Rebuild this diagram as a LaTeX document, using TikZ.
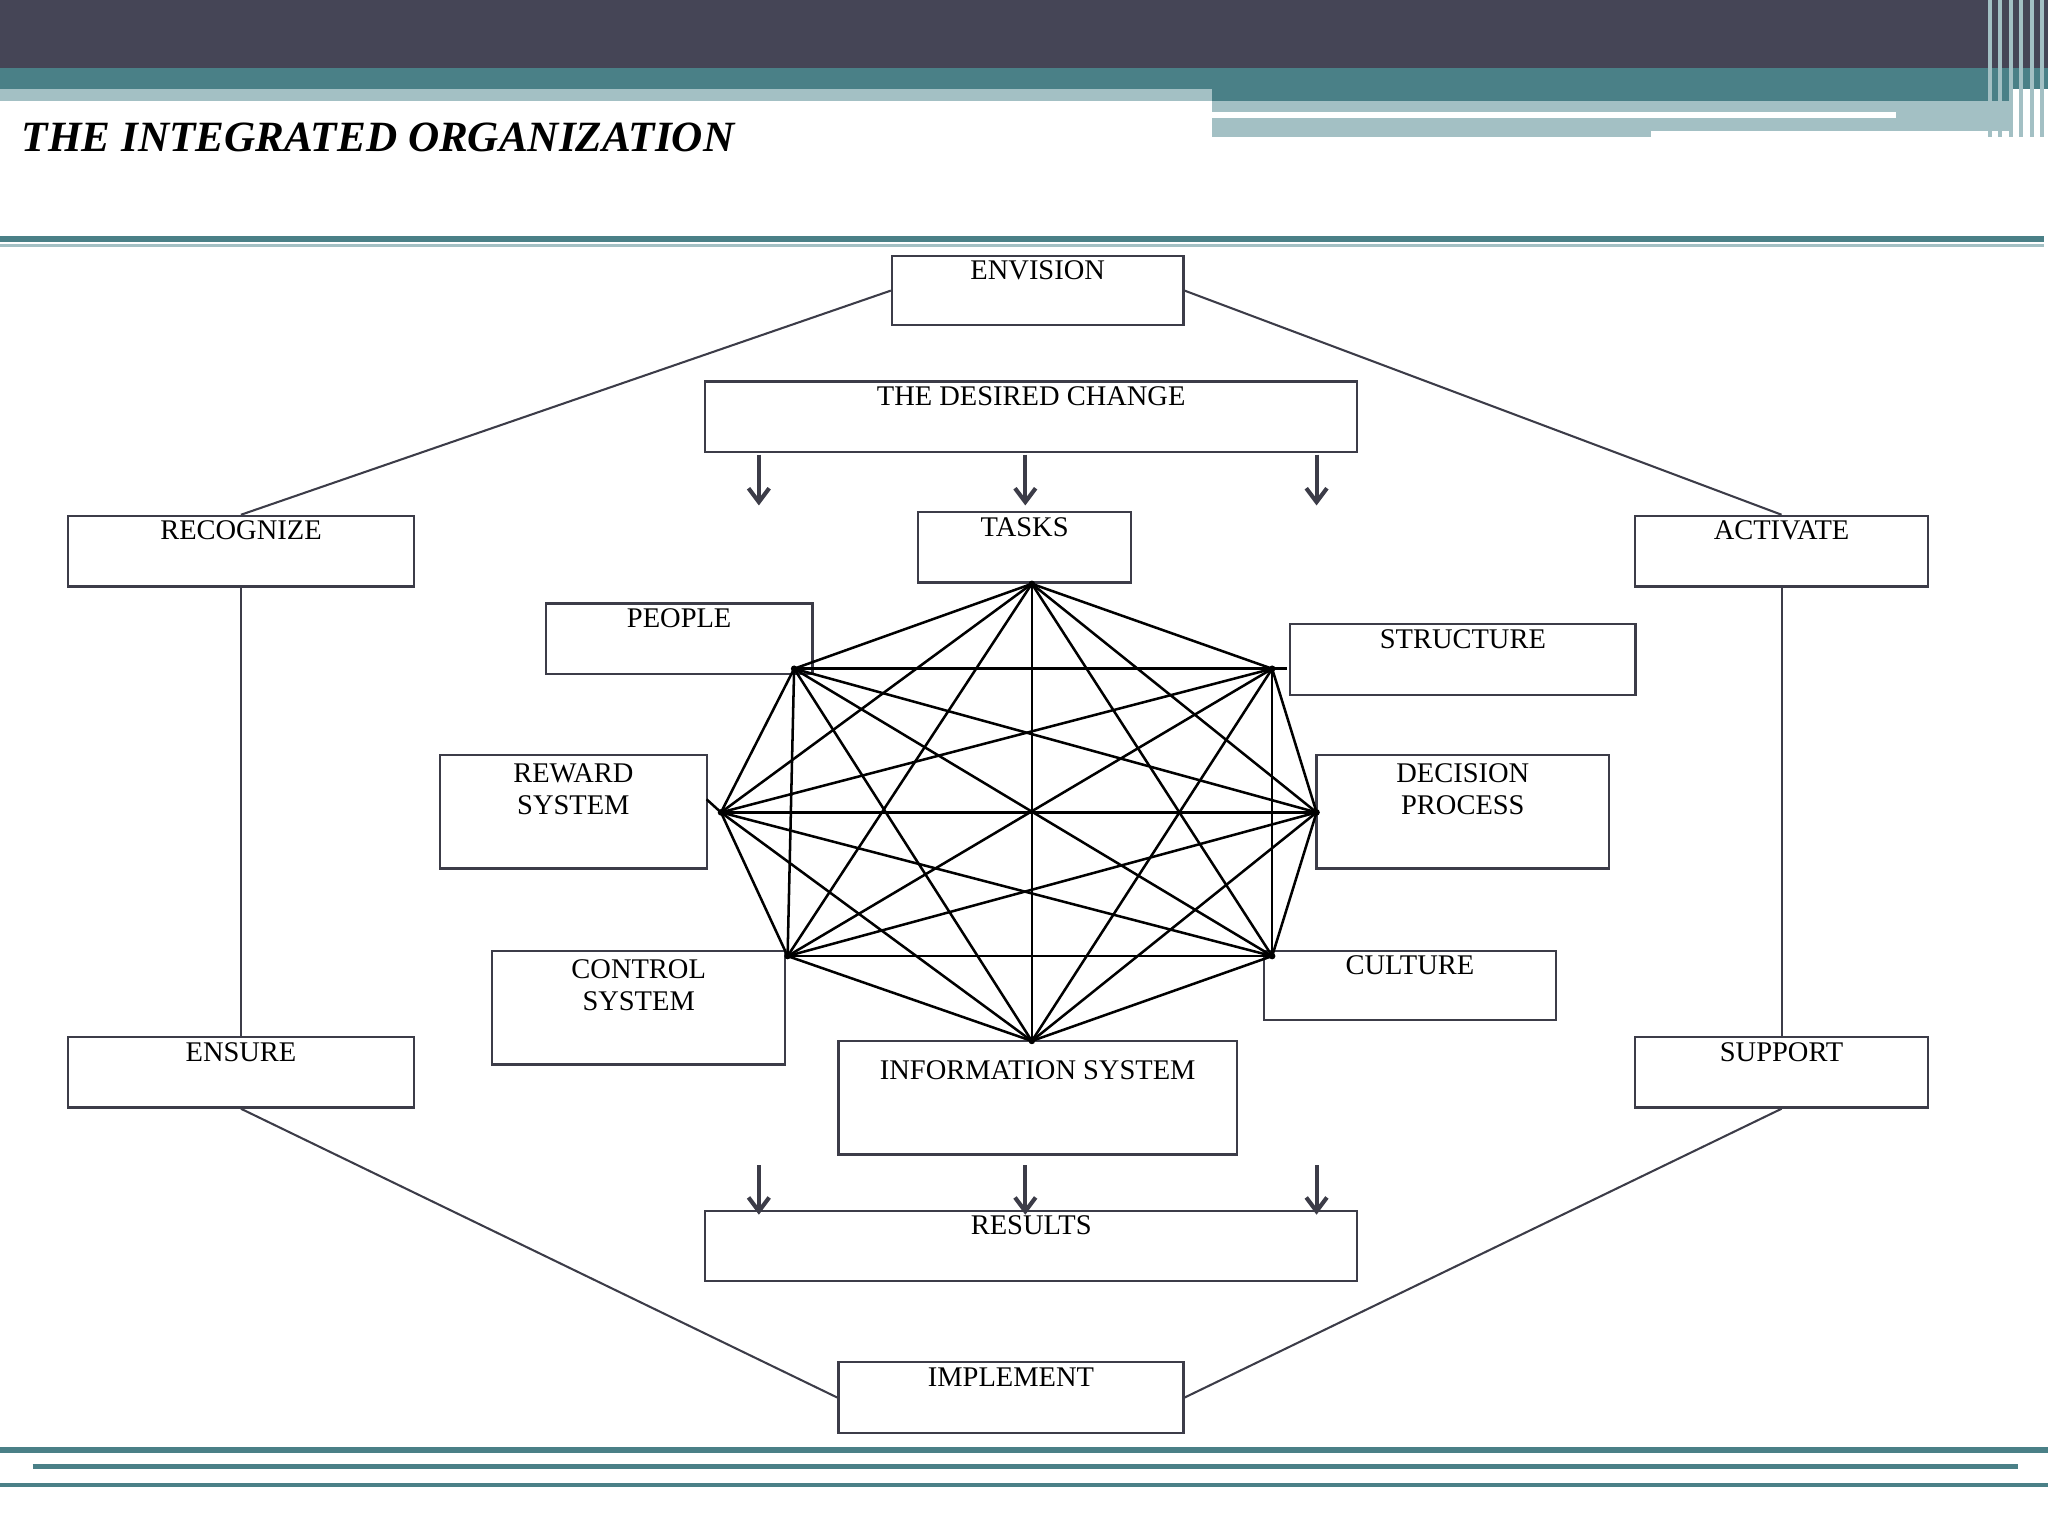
\documentclass[tikz,border=0pt]{standalone}
\usepackage{fontspec}
\setmainfont{Liberation Serif}
\usetikzlibrary{arrows.meta}
\definecolor{dark}{HTML}{454556}
\definecolor{teal}{HTML}{4A8087}
\definecolor{lteal}{HTML}{A3C0C4}
\definecolor{edge}{HTML}{3C3C48}
\begin{document}
\begin{tikzpicture}[x=0.01cm,y=-0.01cm,
  box/.style={draw=edge,line width=0.5pt,inner sep=0pt,font=\fontsize{6.2}{7}\selectfont,align=center},
  link/.style={draw=edge,line width=0.45pt},
  arr/.style={draw=edge,line width=0.9pt,-{Straight Barb[length=3pt,width=4.5pt,line width=0.9pt]}},
  web/.style={draw=black,line width=0.55pt}]
\useasboundingbox (0,0) rectangle (1568,1176);
% header
\fill[dark] (0,0) rectangle (1568,52);
\fill[teal] (0,52) rectangle (1568,68);
\fill[lteal] (0,68) rectangle (928,77);
\fill[teal] (928,68) rectangle (1540,77);
\fill[lteal] (928,77) rectangle (1540,105);
\fill[white] (928,86) rectangle (1452,90);
\fill[white] (1264,100) rectangle (1540,105);
\foreach \x in {1522,1530,1538,1546,1554,1562}{\fill[lteal] (\x,0) rectangle (\x+3,105);}
\node[font=\bfseries\itshape\fontsize{9.4}{11}\selectfont,anchor=west,inner sep=0pt] (title) at (16,105) {THE INTEGRATED ORGANIZATION};
\draw[teal,line width=1.2pt] (0,183) -- (1565,183);
\draw[lteal,line width=0.8pt] (0,188) -- (1565,188);
\draw[teal,line width=1.2pt] (0,1110) -- (1568,1110);
\draw[teal,line width=1pt] (25,1123) -- (1545,1123);
\draw[teal,line width=1pt] (0,1137) -- (1568,1137);
% boxes
\node[box,minimum width=223*0.1mm,minimum height=53*0.1mm] (env) at (794.5,222.5) {ENVISION\\[2pt]};
\node[box,minimum width=499*0.1mm,minimum height=54*0.1mm] (des) at (789.5,319) {THE DESIRED CHANGE\\[2pt]};
\node[box,minimum width=265*0.1mm,minimum height=54*0.1mm] (rec) at (184.5,422) {RECOGNIZE\\[2pt]};
\node[box,minimum width=224*0.1mm,minimum height=54*0.1mm] (act) at (1364,422) {ACTIVATE\\[2pt]};
\node[box,minimum width=163*0.1mm,minimum height=54*0.1mm] (tasks) at (784.5,419) {TASKS\\[2pt]};
\node[box,minimum width=204*0.1mm,minimum height=54*0.1mm] (people) at (520,489) {PEOPLE\\[2pt]};
\node[box,minimum width=264*0.1mm,minimum height=54*0.1mm] (struct) at (1120,505) {STRUCTURE\\[2pt]};
\node[box,minimum width=204*0.1mm,minimum height=87*0.1mm] (reward) at (439,621.5) {REWARD\\SYSTEM\\[3pt]};
\node[box,minimum width=224*0.1mm,minimum height=87*0.1mm] (dec) at (1120,621.5) {DECISION\\PROCESS\\[3pt]};
\node[box,minimum width=224*0.1mm,minimum height=87*0.1mm] (ctrl) at (489,771.5) {CONTROL\\SYSTEM\\[3pt]};
\node[box,minimum width=223*0.1mm,minimum height=53*0.1mm] (cult) at (1079.5,754.5) {CULTURE\\[2pt]};
\node[box,minimum width=265*0.1mm,minimum height=54*0.1mm] (ens) at (184.5,821) {ENSURE\\[2pt]};
\node[box,minimum width=224*0.1mm,minimum height=54*0.1mm] (sup) at (1364,821) {SUPPORT\\[2pt]};
\node[box,minimum width=305*0.1mm,minimum height=87*0.1mm] (info) at (794.5,840.5) {};
\node[font=\fontsize{6.2}{7}\selectfont] (infot) at (794.5,819) {INFORMATION SYSTEM};
\node[box,minimum width=499*0.1mm,minimum height=54*0.1mm] (res) at (789.5,954) {RESULTS\\[2pt]};
\node[box,minimum width=264*0.1mm,minimum height=54*0.1mm] (imp) at (774,1070) {IMPLEMENT\\[2pt]};
% outer links
\draw[link] (env.west) -- (rec.north);
\draw[link] (env.east) -- (act.north);
\draw[link] (rec.south) -- (ens.north);
\draw[link] (act.south) -- (sup.north);
\draw[link] (ens.south) -- (imp.west);
\draw[link] (sup.south) -- (imp.east);
% arrows
\foreach \x/\n in {581/a,785/b,1008/c}{
  \coordinate (s\n) at (\x,348); \coordinate (e\n) at (\x,387);
  \draw[arr] (s\n) -- (e\n);
  \coordinate (u\n) at (\x,892); \coordinate (v\n) at (\x,930);
  \draw[arr] (u\n) -- (v\n);}
% web
\coordinate (p1) at (790,447);
\coordinate (p2) at (974,512);
\coordinate (p3) at (1008,622);
\coordinate (p4) at (974,732);
\coordinate (p5) at (790,797);
\coordinate (p6) at (603,732);
\coordinate (p7) at (552,622);
\coordinate (p8) at (608,512);
\foreach \i in {1,...,8}{\foreach \j in {\i,...,8}{\ifnum\i<\j \draw[web] (p\i) -- (p\j);\fi}}
\foreach \i in {1,...,8}{\fill (p\i) circle (2.5);}
\coordinate (rw) at (541,612);
\draw[web] (rw) -- (p7);
\draw[web] (p2) -- (985,512);
\end{tikzpicture}
\end{document}
